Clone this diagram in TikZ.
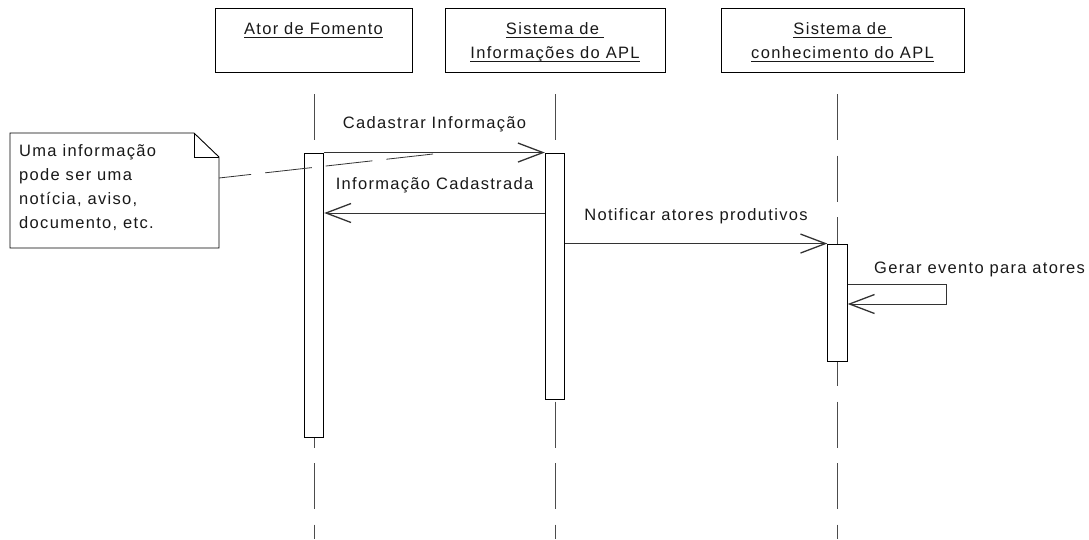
\documentclass[tikz,border=0pt]{standalone}
\usepackage{fontspec}
\setmainfont{Liberation Sans}[LetterSpace=8]
\newsavebox{\myulbox}
\newcommand{\myul}[1]{\sbox{\myulbox}{#1}\rlap{\rule[-3.5pt]{\wd\myulbox}{0.9pt}}\usebox{\myulbox}}
\usetikzlibrary{arrows.meta}
\begin{document}
\begin{tikzpicture}[x=1pt,y=-1pt,
  every node/.style={font=\fontsize{16.5}{24}\selectfont, inner sep=0pt, text=black!90},
  objbox/.style={draw, line width=0.9pt, minimum height=64pt},
  actbox/.style={draw, fill=white, line width=0.9pt, minimum width=19.5pt},
  life/.style={draw=black!70, line width=0.8pt, dash pattern=on 46pt off 15.5pt},
  msg/.style={draw=black!80, line width=0.8pt, -{Straight Barb[length=25pt,width=19pt,line width=1.3pt]}},
  lbl/.style={anchor=base},
  notelink/.style={draw=black!80, line width=0.8pt, dash pattern=on 47pt off 14pt},
  notebox/.style={draw, line width=0.9pt, fill=white},
]
\useasboundingbox (0,0) rectangle (1089,539);

% object boxes
\node[objbox, minimum width=197pt] (o1) at (313.5,40) {};
\node[objbox, minimum width=220pt] (o2) at (555,40) {};
\node[objbox, minimum width=243pt] (o3) at (842.5,40) {};
\node[anchor=base] (o1t) at (313.5,34) {\myul{Ator de Fomento}};
\node[anchor=base] (o2t) at (555,34) {\begin{tabular}[t]{@{}c@{}}\myul{Sistema de\hspace{5pt}}\\\myul{Informações do APL}\end{tabular}};
\node[anchor=base] (o3t) at (842.5,34) {\begin{tabular}[t]{@{}c@{}}\myul{Sistema de\hspace{5pt}}\\\myul{conhecimento do APL}\end{tabular}};

% lifelines
\coordinate (l1a) at (314,94);   \coordinate (l1b) at (314,539);
\coordinate (l2a) at (555,94);   \coordinate (l2b) at (555,539);
\coordinate (l3a) at (837.5,94); \coordinate (l3b) at (837.5,539);
\draw[life] (l1a) -- (l1b);
\draw[life] (l2a) -- (l2b);
\draw[life] (l3a) -- (l3b);

% activation boxes
\node[actbox, minimum height=284pt] (act1) at (314,295) {};
\node[actbox, minimum height=246pt] (act2) at (555,276) {};
\node[actbox, minimum height=117pt] (act3) at (837.5,302.5) {};

% helper levels
\coordinate (y213) at (0,213);
\coordinate (selfR1) at (946,284);
\coordinate (selfR2) at (946,304);

% messages
\draw[msg] (act1.north east) -- (act2.north west);
\node[lbl] (m1) at (434.5,128) {Cadastrar Informação};
\draw[msg] (act2.west |- y213) -- (act1.east |- y213);
\node[lbl] (m2) at (434.5,189) {Informação Cadastrada};
\draw[msg] (act2.east |- act3.north) -- (act3.north west);
\node[lbl] (m3) at (696,220) {Notificar atores produtivos};
\draw[msg] (act3.east |- selfR1) -- (selfR1) -- (selfR2) -- (act3.east |- selfR2);
\node[anchor=base west] (m4) at (874,273) {Gerar evento para atores};

% note
\draw[notebox] (10,133) -- (194,133) -- (219,157) -- (219,248) -- (10,248) -- cycle;
\draw[line width=0.9pt] (194,133) -- (194,157) -- (219,157);
\node[anchor=base west] (note) at (19,156) {\begin{tabular}[t]{@{}l@{}}Uma informação\\pode ser uma\\notícia, aviso,\\documento, etc.\end{tabular}};
\coordinate (noteR) at (219,178);
\coordinate (noteEnd) at (433,154);
\draw[notelink] (noteEnd) -- (noteR);
\end{tikzpicture}
\end{document}
